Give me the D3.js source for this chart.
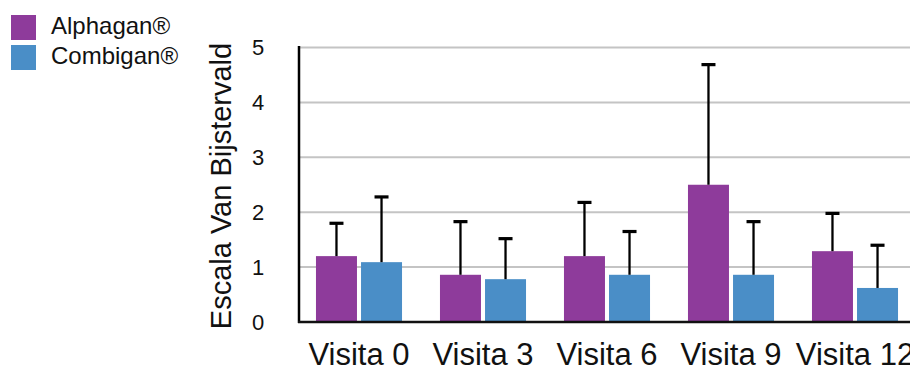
<!DOCTYPE html>
<html>
<head>
<meta charset="utf-8">
<script src="https://cdn.jsdelivr.net/npm/d3@7"></script>
<style>
  html, body { margin: 0; padding: 0; background: #fff; }
  svg { display: block; font-family: "Liberation Sans", Arial, Helvetica, sans-serif; }
</style>
</head>
<body>
<svg id="chart" width="910" height="367"></svg>
<script>
const categories = ["Visita 0", "Visita 3", "Visita 6", "Visita 9", "Visita 12"];
const seriesNames = ["Alphagan®", "Combigan®"];
const alphaganValues = [1.20, 0.86, 1.20, 2.50, 1.29];
const alphaganErrTop = [1.80, 1.83, 2.18, 4.69, 1.98];
const combiganValues = [1.09, 0.78, 0.86, 0.86, 0.62];
const combiganErrTop = [2.28, 1.52, 1.65, 1.83, 1.40];
const yTicks = [0, 1, 2, 3, 4, 5];
const yTitle = "Escala Van Bijstervald";
const colors = ["#8E3B9B", "#4A8EC7"];

const svg = d3.select("#chart");
const y = d3.scaleLinear().domain([0, 5]).range([322, 47.5]);
const x0 = d3.scaleBand().domain(categories).range([297, 917]).paddingInner(0.306).paddingOuter(0.153);
const x1 = d3.scaleBand().domain(seriesNames).range([0, x0.bandwidth()]).paddingInner(0.09).paddingOuter(0);

const data = categories.map((c, i) => ({
  cat: c,
  items: [
    { s: seriesNames[0], v: alphaganValues[i], e: alphaganErrTop[i], color: colors[0] },
    { s: seriesNames[1], v: combiganValues[i], e: combiganErrTop[i], color: colors[1] }
  ]
}));

// gridlines
svg.append("g").selectAll("line").data(yTicks.filter(d => d > 0)).join("line")
  .attr("x1", 299).attr("x2", 910)
  .attr("y1", d => y(d)).attr("y2", d => y(d))
  .attr("stroke", "#c4c4c4").attr("stroke-width", 2);

// bars
const groups = svg.append("g").selectAll("g").data(data).join("g")
  .attr("transform", d => `translate(${x0(d.cat)},0)`);
groups.selectAll("rect").data(d => d.items).join("rect")
  .attr("x", d => x1(d.s)).attr("width", x1.bandwidth())
  .attr("y", d => y(d.v)).attr("height", d => y(0) - y(d.v))
  .attr("fill", d => d.color);

// error bars
groups.selectAll("line.err").data(d => d.items).join("line")
  .attr("class", "err")
  .attr("x1", d => x1(d.s) + x1.bandwidth() / 2).attr("x2", d => x1(d.s) + x1.bandwidth() / 2)
  .attr("y1", d => y(d.v)).attr("y2", d => y(d.e))
  .attr("stroke", "#000").attr("stroke-width", 2.3);
groups.selectAll("rect.cap").data(d => d.items).join("rect")
  .attr("class", "cap")
  .attr("x", d => x1(d.s) + x1.bandwidth() / 2 - 7).attr("width", 14)
  .attr("y", d => y(d.e) - 1.5).attr("height", 3.2)
  .attr("fill", "#000");

// axes lines
svg.append("line").attr("x1", 299).attr("x2", 299).attr("y1", y(5) - 1.5).attr("y2", y(0) + 1)
  .attr("stroke", "#000").attr("stroke-width", 2.5);
svg.append("line").attr("x1", 298).attr("x2", 910).attr("y1", y(0)).attr("y2", y(0))
  .attr("stroke", "#111").attr("stroke-width", 2.5);

// y tick labels
svg.append("g").selectAll("text").data(yTicks).join("text")
  .attr("x", 258).attr("y", d => y(d)).attr("dy", "0.36em")
  .attr("text-anchor", "middle").attr("font-size", 22).attr("fill", "#111")
  .text(d => d);

// y title
svg.append("text")
  .attr("transform", `translate(231,186) rotate(-90)`)
  .attr("text-anchor", "middle").attr("font-size", 29).attr("fill", "#111")
  .text(yTitle);

// x labels
svg.append("g").selectAll("text").data(categories).join("text")
  .attr("x", d => x0(d) + x0.bandwidth() / 2).attr("y", 365)
  .attr("text-anchor", "middle").attr("font-size", 31).attr("fill", "#111")
  .text(d => d);

// legend
const leg = svg.append("g").selectAll("g").data(seriesNames).join("g")
  .attr("transform", (d, i) => `translate(11,${15 + i * 30})`);
leg.append("rect").attr("width", 25).attr("height", 25).attr("fill", (d, i) => colors[i]);
leg.append("text").attr("x", 40).attr("y", 19).attr("font-size", 24).attr("fill", "#111").text(d => d);
</script>
</body>
</html>
